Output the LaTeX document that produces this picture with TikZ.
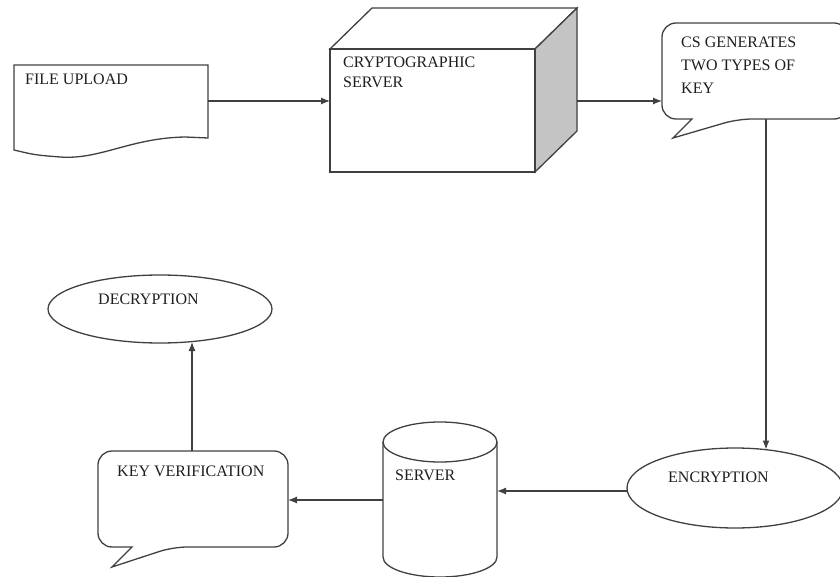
\documentclass[tikz,border=0pt]{standalone}
\usepackage{fontspec}
\setmainfont{Liberation Serif}
\usetikzlibrary{arrows.meta,shapes.geometric}
\definecolor{ln}{HTML}{404040}
\definecolor{tx}{HTML}{1E1E1E}
\definecolor{side}{HTML}{C4C4C4}
\tikzset{
  shp/.style={draw=ln, line width=1.3pt},
  lbl/.style={anchor=base west, inner sep=0pt, text=tx, font=\fontsize{16}{20}\selectfont},
  conn/.style={draw=ln, line width=1.2pt, -{Latex[length=9pt,width=7pt]}},
}
\begin{document}
\begin{tikzpicture}[x=1pt,y=1pt]
\useasboundingbox (0,0) rectangle (840,-577);
% File upload document shape
\draw[shp] (14,-65) -- (208,-65) -- (208,-138) -- (185,-137)
  .. controls (130,-138) and (100,-160) .. (60,-157)
  .. controls (35,-155) .. (14,-150) -- cycle;
\node[lbl] (tfile) at (25,-85) {FILE UPLOAD};
\coordinate (fileE) at (208,-101);
% Cryptographic server cube
\draw[shp, fill=white] (330,-49) -- (372,-8) -- (577,-8) -- (535,-49) -- cycle;
\draw[shp, fill=side] (535,-49) -- (577,-8) -- (577,-131) -- (535,-172) -- cycle;
\draw[shp, fill=white] (330,-49) rectangle (535,-172);
\node[lbl] (tcs1) at (343,-68) {CRYPTOGRAPHIC};
\node[lbl] (tcs2) at (343,-88) {SERVER};
\coordinate (cubeW) at (330,-101);
\coordinate (cubeE) at (577,-101);
% Callout 1
\draw[shp] (692,-119) [rounded corners=14pt] -- (662,-119) -- (662,-23) -- (848,-23) -- (848,-119) -- (738,-119) [sharp corners] -- (673,-138) -- cycle;
\node[lbl] (tg1) at (681,-48) {CS GENERATES};
\node[lbl] (tg2) at (681,-71) {TWO TYPES OF};
\node[lbl] (tg3) at (681,-94) {KEY};
\coordinate (genW) at (662,-101);
\coordinate (genS) at (766,-119);
% Encryption ellipse
\node[shp, ellipse, minimum width=216pt, minimum height=80pt, inner sep=0pt] (enc) at (735,-488) {};
\node[lbl] (tenc) at (668,-482) {ENCRYPTION};
\coordinate (encN) at (766,-449.5);
\coordinate (encW) at (628,-491);
% Server cylinder
\draw[shp] (383,-442) -- (383,-557) arc[start angle=180, end angle=360, x radius=57, y radius=20] -- (497,-442);
\draw[shp] (440,-442) ellipse[x radius=57, y radius=20];
\node[lbl] (tsrv) at (395,-480) {SERVER};
\coordinate (srvE) at (497,-491);
\coordinate (srvW) at (383,-500);
% Callout 2
\draw[shp] (132,-547) [rounded corners=14pt] -- (98,-547) -- (98,-451) -- (288,-451) -- (288,-547) -- (173,-547) [sharp corners] -- (112,-567) -- cycle;
\node[lbl] (tkv) at (117,-476) {KEY VERIFICATION};
\coordinate (kvE) at (288,-500);
\coordinate (kvN) at (192,-451);
% Decryption ellipse
\node[shp, ellipse, minimum width=224pt, minimum height=68pt, inner sep=0pt] (dec) at (160,-309) {};
\node[lbl] (tdec) at (98,-304) {DECRYPTION};
\coordinate (decS) at (192,-342);
% Connectors
\draw[conn] (fileE) -- (cubeW);
\draw[conn] (cubeE) -- (genW);
\draw[conn] (genS) -- (encN);
\draw[conn] (encW) -- (srvE);
\draw[conn] (srvW) -- (kvE);
\draw[conn] (kvN) -- (decS);
\end{tikzpicture}
\end{document}
